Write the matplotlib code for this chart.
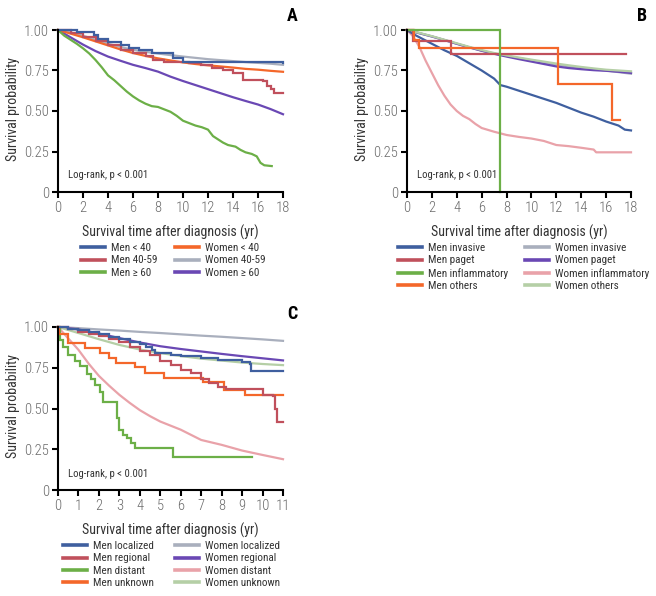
import matplotlib
matplotlib.use("Agg")
import matplotlib.pyplot as plt
from matplotlib.lines import Line2D
import logging
logging.getLogger("matplotlib.font_manager").setLevel(logging.ERROR)

plt.rcParams['font.family'] = ['Roboto Condensed', 'Liberation Sans Narrow', 'Archivo Narrow',
                               'Barlow Semi Condensed', 'DejaVu Sans']

# ---------------- Panel A data ----------------
a_labels_men = ["Men < 40", "Men 40-59", "Men \u2265 60"]
a_labels_women = ["Women < 40", "Women 40-59", "Women \u2265 60"]

a_men_lt40_t = [0, 1.5, 2.9, 3.2, 4.0, 5.0, 5.7, 6.5, 7.5, 9.2, 10.0, 12.5, 18]
a_men_lt40_s = [1.0, 0.99, 0.97, 0.945, 0.925, 0.905, 0.89, 0.875, 0.855, 0.83, 0.805, 0.80, 0.795]

a_men_4059_t = [0, 1, 2, 3, 4, 5, 6, 7, 7.6, 8.5, 9.5, 10.5, 11.4, 12.3, 13.2, 14.0, 14.8, 16.4, 16.7, 17.0, 17.3, 18]
a_men_4059_s = [1.0, 0.98, 0.955, 0.93, 0.905, 0.875, 0.855, 0.84, 0.815, 0.805, 0.80, 0.795, 0.785, 0.765, 0.75, 0.733, 0.69, 0.686, 0.655, 0.635, 0.61, 0.61]

a_men_ge60_t = [0, 0.5, 1, 1.5, 2, 2.5, 3, 3.5, 4, 4.5, 5, 5.5, 6, 6.5, 7, 7.5, 8, 8.5, 9, 9.5, 10, 10.5, 11, 11.5, 12, 12.4, 12.8, 13.2, 13.6, 14.2, 14.6, 15.0, 15.5, 15.9, 16.2, 16.5, 17.1]
a_men_ge60_s = [1.0, 0.965, 0.94, 0.915, 0.887, 0.855, 0.815, 0.77, 0.72, 0.69, 0.655, 0.62, 0.59, 0.565, 0.545, 0.53, 0.525, 0.51, 0.495, 0.47, 0.44, 0.425, 0.41, 0.40, 0.385, 0.345, 0.325, 0.305, 0.29, 0.28, 0.26, 0.245, 0.235, 0.22, 0.18, 0.165, 0.16]

a_women_lt40_t = [0, 1, 2, 3, 4, 5, 6, 7, 8, 9, 10, 11, 12, 13, 14, 15, 16, 17, 18]
a_women_lt40_s = [1.0, 0.978, 0.955, 0.93, 0.905, 0.88, 0.858, 0.84, 0.825, 0.812, 0.80, 0.79, 0.782, 0.775, 0.768, 0.76, 0.755, 0.748, 0.742]

a_women_4059_t = [0, 1, 2, 3, 4, 5, 6, 7, 8, 9, 10, 11, 12, 13, 14, 15, 16, 17, 18]
a_women_4059_s = [1.0, 0.985, 0.965, 0.94, 0.915, 0.895, 0.878, 0.865, 0.855, 0.845, 0.836, 0.828, 0.82, 0.814, 0.808, 0.802, 0.797, 0.792, 0.785]

a_women_ge60_t = [0, 1, 2, 3, 4, 5, 6, 7, 8, 9, 10, 11, 12, 13, 14, 15, 16, 17, 18]
a_women_ge60_s = [1.0, 0.955, 0.91, 0.87, 0.836, 0.81, 0.785, 0.765, 0.743, 0.712, 0.685, 0.66, 0.635, 0.61, 0.585, 0.562, 0.54, 0.512, 0.48]

# ---------------- Panel B data ----------------
b_labels_men = ["Men invasive", "Men paget", "Men inflammatory", "Men others"]
b_labels_women = ["Women invasive", "Women paget", "Women inflammatory", "Women others"]

b_men_inv_t = [0, 0.5, 1, 1.5, 2, 3, 4, 5, 6, 7, 7.5, 8, 9, 10, 11, 12, 13, 14, 15, 16, 17, 17.5, 18]
b_men_inv_s = [1.0, 0.975, 0.955, 0.935, 0.915, 0.875, 0.84, 0.795, 0.75, 0.70, 0.66, 0.65, 0.625, 0.60, 0.575, 0.55, 0.52, 0.49, 0.465, 0.435, 0.41, 0.385, 0.38]

b_men_paget_t = [0, 0.5, 3.5, 17.6]
b_men_paget_s = [1.0, 0.93, 0.85, 0.85]

b_men_infl_t = [0, 7.45, 7.45]
b_men_infl_s = [1.0, 1.0, 0.0]

b_men_oth_t = [0, 0.6, 1.0, 12.1, 16.5, 17.1]
b_men_oth_s = [1.0, 0.94, 0.89, 0.667, 0.445, 0.445]

b_women_inv_t = [0, 1, 2, 3, 4, 5, 6, 7, 8, 9, 10, 11, 12, 13, 14, 15, 16, 17, 18]
b_women_inv_s = [1.0, 0.98, 0.96, 0.938, 0.915, 0.893, 0.872, 0.855, 0.84, 0.826, 0.813, 0.80, 0.787, 0.776, 0.767, 0.758, 0.75, 0.74, 0.73]

b_women_paget_t = [0, 1, 2, 3, 4, 5, 6, 7, 8, 9, 10, 11, 12, 13, 14, 15, 16, 17, 18]
b_women_paget_s = [1.0, 0.98, 0.96, 0.938, 0.915, 0.893, 0.872, 0.853, 0.836, 0.82, 0.805, 0.79, 0.775, 0.765, 0.758, 0.752, 0.748, 0.742, 0.735]

b_women_infl_t = [0, 0.5, 1, 1.5, 2, 2.5, 3, 3.5, 4, 4.5, 5, 5.5, 6, 7, 7.5, 8, 9, 10, 11, 12, 13, 14, 15, 15.2, 18]
b_women_infl_s = [1.0, 0.96, 0.895, 0.81, 0.735, 0.66, 0.595, 0.54, 0.50, 0.47, 0.45, 0.42, 0.395, 0.372, 0.362, 0.352, 0.34, 0.33, 0.315, 0.29, 0.283, 0.273, 0.262, 0.245, 0.245]

b_women_oth_t = [0, 1, 2, 3, 4, 5, 6, 7, 8, 9, 10, 11, 12, 13, 14, 15, 16, 17, 18]
b_women_oth_s = [1.0, 0.982, 0.962, 0.94, 0.918, 0.896, 0.876, 0.858, 0.843, 0.83, 0.817, 0.805, 0.793, 0.782, 0.772, 0.763, 0.755, 0.75, 0.745]

# ---------------- Panel C data ----------------
c_labels_men = ["Men localized", "Men regional", "Men distant", "Men unknown"]
c_labels_women = ["Women localized", "Women regional", "Women distant", "Women unknown"]

c_men_loc_t = [0, 0.5, 1, 1.5, 2, 2.5, 3, 3.5, 4, 4.3, 4.6, 4.75, 5.5, 6.0, 7.0, 7.8, 9.0, 9.4, 9.45, 11]
c_men_loc_s = [1.0, 0.99, 0.98, 0.968, 0.955, 0.94, 0.925, 0.91, 0.895, 0.88, 0.86, 0.84, 0.83, 0.825, 0.81, 0.80, 0.787, 0.77, 0.733, 0.733]

c_men_reg_t = [0, 0.5, 1, 1.5, 2, 2.5, 3, 3.5, 4, 4.5, 5, 5.5, 6, 6.5, 7, 7.4, 7.8, 8.2, 9.8, 10.0, 10.5, 10.6, 10.7, 11]
c_men_reg_s = [1.0, 0.985, 0.97, 0.958, 0.945, 0.925, 0.905, 0.88, 0.855, 0.83, 0.79, 0.765, 0.735, 0.715, 0.68, 0.655, 0.63, 0.62, 0.62, 0.58, 0.575, 0.50, 0.42, 0.42]

c_men_dist_t = [0, 0.1, 0.26, 0.5, 0.83, 1.07, 1.4, 1.6, 1.8, 2.05, 2.2, 2.7, 2.87, 3.0, 3.2, 3.35, 3.55, 3.76, 5.63, 9.46]
c_men_dist_s = [1.0, 0.92, 0.88, 0.83, 0.79, 0.76, 0.71, 0.68, 0.645, 0.60, 0.54, 0.54, 0.44, 0.37, 0.34, 0.32, 0.29, 0.255, 0.205, 0.205]

c_men_unk_t = [0, 0.05, 0.5, 1.3, 2.05, 2.5, 2.85, 3.75, 4.25, 5.2, 7.1, 8.1, 9.15, 11]
c_men_unk_s = [1.0, 0.957, 0.90, 0.87, 0.84, 0.81, 0.78, 0.757, 0.715, 0.685, 0.665, 0.615, 0.58, 0.58]

c_women_loc_t = [0, 1, 2, 3, 4, 5, 6, 7, 8, 9, 10, 11]
c_women_loc_s = [1.0, 0.993, 0.985, 0.978, 0.97, 0.963, 0.955, 0.947, 0.94, 0.932, 0.924, 0.915]

c_women_reg_t = [0, 1, 2, 3, 4, 5, 6, 7, 8, 9, 10, 11]
c_women_reg_s = [1.0, 0.985, 0.96, 0.932, 0.905, 0.882, 0.865, 0.85, 0.835, 0.821, 0.808, 0.795]

c_women_dist_t = [0, 0.5, 1, 1.5, 2, 2.5, 3, 3.5, 4, 4.5, 5, 6, 7, 8, 9, 10, 11]
c_women_dist_s = [1.0, 0.93, 0.86, 0.775, 0.70, 0.64, 0.584, 0.535, 0.49, 0.453, 0.42, 0.37, 0.307, 0.277, 0.242, 0.215, 0.189]

c_women_unk_t = [0, 1, 2, 3, 4, 5, 6, 7, 8, 9, 10, 11]
c_women_unk_s = [1.0, 0.963, 0.925, 0.89, 0.862, 0.84, 0.822, 0.806, 0.794, 0.782, 0.773, 0.766]

# ---------------- colours ----------------
C_BLUE = "#3f5f9f"
C_RED = "#c0505c"
C_GREEN = "#6caf47"
C_ORANGE = "#f4672a"
C_GRAY = "#a9afbd"
C_PURPLE = "#6a48b4"
C_PINK = "#e9a2a9"
C_LGREEN = "#b5cfa6"

TICK_COL = "#6a6a6a"
LAB_COL = "#333333"

fig = plt.figure(figsize=(6.56, 5.96), dpi=100)
W, H = 656.0, 596.0


def make_ax(x0, x1, y0, y1):
    unit = (y0 - y1)
    return fig.add_axes([x0 / W, (H - y0) / H, (x1 - x0) / W, 1.03 * unit / H])


def style(ax, xmax, xticks):
    ax.set_xlim(0, xmax)
    ax.set_ylim(0, 1.03)
    for s in ("top", "right"):
        ax.spines[s].set_visible(False)
    for s in ("left", "bottom"):
        ax.spines[s].set_linewidth(1.5)
        ax.spines[s].set_color("black")
    ax.spines["left"].set_bounds(0, 1)
    ax.set_yticks([0, 0.25, 0.5, 0.75, 1.0])
    ax.set_yticklabels(["0", "0.25", "0.50", "0.75", "1.00"])
    ax.set_xticks(xticks)
    ax.set_xticklabels([str(v) for v in xticks])
    ax.tick_params(direction="out", length=4, width=1.5, colors="black",
                   labelcolor=TICK_COL, labelsize=10.5, pad=2.5)
    for lab in ax.get_xticklabels() + ax.get_yticklabels():
        lab.set_fontweight("light")
    ax.set_ylabel("Survival probability", fontsize=10, color=LAB_COL, labelpad=3)
    ax.set_xlabel("Survival time after diagnosis (yr)", fontsize=10, color=LAB_COL, labelpad=7)


LW = 1.6


def step(ax, t, s, c):
    ax.step(t, s, where="post", color=c, lw=LW, clip_on=False, solid_joinstyle="miter")


def line(ax, t, s, c):
    ax.plot(t, s, color=c, lw=LW, clip_on=False)


def legend(x_px, y_px, labels, colors):
    hs = [Line2D([], [], color=c, lw=2.6) for c in colors]
    fig.legend(hs, labels, loc="upper left", bbox_to_anchor=(x_px / W, 1 - y_px / H),
               frameon=False, borderpad=0, borderaxespad=0, handlelength=2.2,
               handletextpad=0.5, labelspacing=0.22, fontsize=8,
               labelcolor=LAB_COL)


LR_SIZE = 7.7

# ---------------- Panel A ----------------
axA = make_ax(58, 283, 192, 30)
style(axA, 18, list(range(0, 19, 2)))
line(axA, a_women_4059_t, a_women_4059_s, C_GRAY)
line(axA, a_women_ge60_t, a_women_ge60_s, C_PURPLE)
line(axA, a_women_lt40_t, a_women_lt40_s, C_ORANGE)
line(axA, a_men_ge60_t, a_men_ge60_s, C_GREEN)
step(axA, a_men_4059_t, a_men_4059_s, C_RED)
step(axA, a_men_lt40_t, a_men_lt40_s, C_BLUE)
axA.text(0.8, 0.105, "Log-rank, p < 0.001", fontsize=LR_SIZE, color=LAB_COL, va="center")
fig.text(292 / W, 1 - 16 / H, "A", fontsize=13, fontweight="bold", ha="center", va="center")
legend(81, 243, a_labels_men, [C_BLUE, C_RED, C_GREEN])
legend(175, 243, a_labels_women, [C_ORANGE, C_GRAY, C_PURPLE])

# ---------------- Panel B ----------------
axB = make_ax(407, 631, 192, 30)
style(axB, 18, list(range(0, 19, 2)))
line(axB, b_women_inv_t, b_women_inv_s, C_GRAY)
line(axB, b_women_paget_t, b_women_paget_s, C_PURPLE)
line(axB, b_women_oth_t, b_women_oth_s, C_LGREEN)
line(axB, b_women_infl_t, b_women_infl_s, C_PINK)
line(axB, b_men_inv_t, b_men_inv_s, C_BLUE)
step(axB, b_men_paget_t, b_men_paget_s, C_RED)
step(axB, b_men_oth_t, b_men_oth_s, C_ORANGE)
step(axB, b_men_infl_t, b_men_infl_s, C_GREEN)
axB.text(0.8, 0.105, "Log-rank, p < 0.001", fontsize=LR_SIZE, color=LAB_COL, va="center")
fig.text(642 / W, 1 - 16 / H, "B", fontsize=13, fontweight="bold", ha="center", va="center")
legend(398, 243, b_labels_men, [C_BLUE, C_RED, C_GREEN, C_ORANGE])
legend(525, 243, b_labels_women, [C_GRAY, C_PURPLE, C_PINK, C_LGREEN])

# ---------------- Panel C ----------------
axC = make_ax(58, 283, 490, 327)
style(axC, 11, list(range(0, 12)))
line(axC, c_women_loc_t, c_women_loc_s, C_GRAY)
line(axC, c_women_reg_t, c_women_reg_s, C_PURPLE)
line(axC, c_women_unk_t, c_women_unk_s, C_LGREEN)
line(axC, c_women_dist_t, c_women_dist_s, C_PINK)
step(axC, c_men_dist_t, c_men_dist_s, C_GREEN)
step(axC, c_men_unk_t, c_men_unk_s, C_ORANGE)
step(axC, c_men_reg_t, c_men_reg_s, C_RED)
step(axC, c_men_loc_t, c_men_loc_s, C_BLUE)
axC.text(0.49, 0.098, "Log-rank, p < 0.001", fontsize=LR_SIZE, color=LAB_COL, va="center")
fig.text(292 / W, 1 - 314 / H, "C", fontsize=13, fontweight="bold", ha="center", va="center")
legend(63, 541, c_labels_men, [C_BLUE, C_RED, C_GREEN, C_ORANGE])
legend(175, 541, c_labels_women, [C_GRAY, C_PURPLE, C_PINK, C_LGREEN])

fig.savefig("out.png", dpi=100, facecolor="white")
